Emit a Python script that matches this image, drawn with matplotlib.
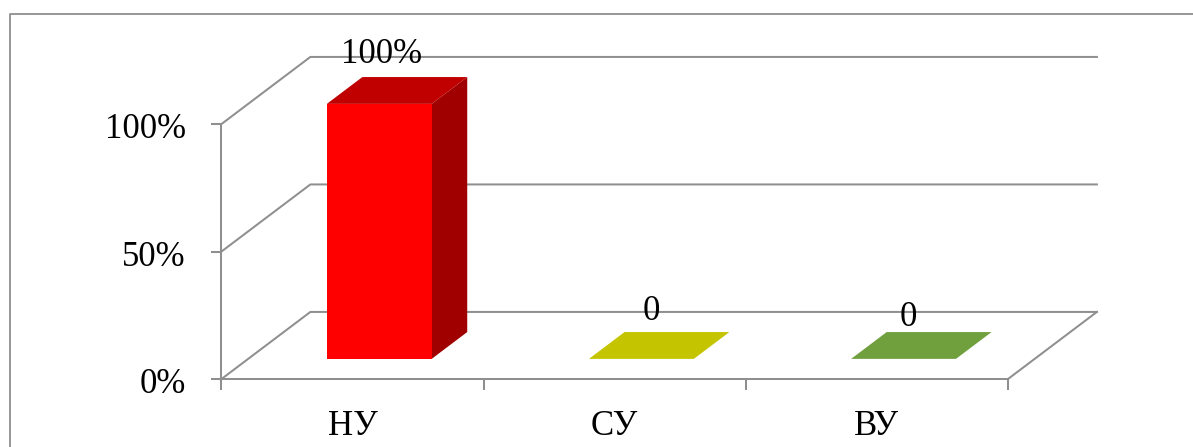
"""
Share of students per level, drawn as a bar chart with a 3D box look.
"""

import matplotlib
matplotlib.use('Agg')
import matplotlib.pyplot as plt
from matplotlib.lines import Line2D
from matplotlib.patches import Polygon
from matplotlib.transforms import ScaledTranslation

categories = ['НУ', 'СУ', 'ВУ']
values = [100, 0, 0]
value_labels = ['100%', '0', '0']
y_ticks = [0, 50, 100]
y_tick_labels = ['0%', '50%', '100%']

front_colors = ['#FF0000', '#FFFF00', '#92D050']
top_colors = ['#C00000', '#C4C400', '#70A03E']
side_colors = ['#A00000', '#A3A300', '#5D8534']

GRAY = '#8F8F8F'
LINE = 1.45
WIDTH, HEIGHT = 1193, 447

# Shift of the back wall relative to the front plane, in data units.
DEPTH_X = 0.339
DEPTH_Y = 26.3
BAR_WIDTH = 0.4
BAR_DEPTH = (0.3, 0.7)

# Hand-placed label offsets from the middle of each bar's top face, in pixels.
label_offsets = [(-15.5, 27), (-8, 25), (-13.5, 19)]

plt.rcParams['font.family'] = ['Liberation Serif', 'DejaVu Serif']


def project(x, y, depth):
    return (x + depth * DEPTH_X, y + depth * DEPTH_Y)


def px(points):
    return points * 72 / 100


fig = plt.figure(figsize=(WIDTH / 100, HEIGHT / 100), dpi=100)
ax = fig.add_axes([221.5 / WIDTH, (HEIGHT - 379) / HEIGHT, 786.5 / WIDTH, 255 / HEIGHT])
ax.patch.set_visible(False)
ax.set_xlim(0, len(categories))
ax.set_ylim(0, 100)

for name in ['top', 'right']:
    ax.spines[name].set_visible(False)
for name in ['left', 'bottom']:
    ax.spines[name].set_color(GRAY)
    ax.spines[name].set_linewidth(LINE)

ax.set_xticks(range(len(categories) + 1))
ax.set_xticklabels([])
ax.set_xticks([i + 0.5 for i in range(len(categories))], minor=True)
ax.set_xticklabels(categories, minor=True, fontsize=25)
ax.tick_params(axis='x', which='major', length=px(11), width=LINE, color=GRAY)
ax.tick_params(axis='x', which='minor', length=0, pad=px(31))

ax.set_yticks(y_ticks)
ax.set_yticklabels(y_tick_labels, fontsize=25)
ax.tick_params(axis='y', length=px(10), width=LINE, color=GRAY, pad=px(25.5))

# The percent labels sit slightly below their ticks.
label_shift = ScaledTranslation(0, -1.5 / 100, fig.dpi_scale_trans)
for label in ax.get_yticklabels():
    label.set_transform(label.get_transform() + label_shift)

# Gridlines run along the side wall and then the back wall.
for tick in y_ticks:
    xs, ys = zip(project(0, tick, 0), project(0, tick, 1), project(len(categories), tick, 1))
    ax.plot(xs, ys, color=GRAY, lw=LINE, clip_on=False, zorder=1)

# Right edge of the floor.
xs, ys = zip(project(len(categories), 0, 0), project(len(categories), 0, 1))
ax.plot(xs, ys, color=GRAY, lw=LINE, clip_on=False, zorder=1)

for i, value in enumerate(values):
    left = i + 0.5 - BAR_WIDTH / 2
    right = i + 0.5 + BAR_WIDTH / 2
    near, far = BAR_DEPTH

    front = [project(left, 0, near), project(right, 0, near),
             project(right, value, near), project(left, value, near)]
    top = [project(left, value, near), project(right, value, near),
           project(right, value, far), project(left, value, far)]
    side = [project(right, 0, near), project(right, 0, far),
            project(right, value, far), project(right, value, near)]

    for corners, color in [(side, side_colors[i]), (front, front_colors[i]), (top, top_colors[i])]:
        ax.add_patch(Polygon(corners, closed=True, facecolor=color, edgecolor='none',
                             clip_on=False, zorder=3))

    offset = label_offsets[i]
    ax.annotate(value_labels[i], xy=project(i + 0.5, value, 0.5),
                xytext=(px(offset[0]), px(offset[1])), textcoords='offset points',
                ha='center', va='baseline', fontsize=25, color='black',
                annotation_clip=False, zorder=4)

# Outer chart frame, cut off at the right and bottom.
fig.add_artist(Line2D([10 / WIDTH, 10 / WIDTH, 1],
                      [0, (HEIGHT - 14) / HEIGHT, (HEIGHT - 14) / HEIGHT],
                      color=GRAY, lw=1.3))

fig.savefig('out.png', dpi=100)
